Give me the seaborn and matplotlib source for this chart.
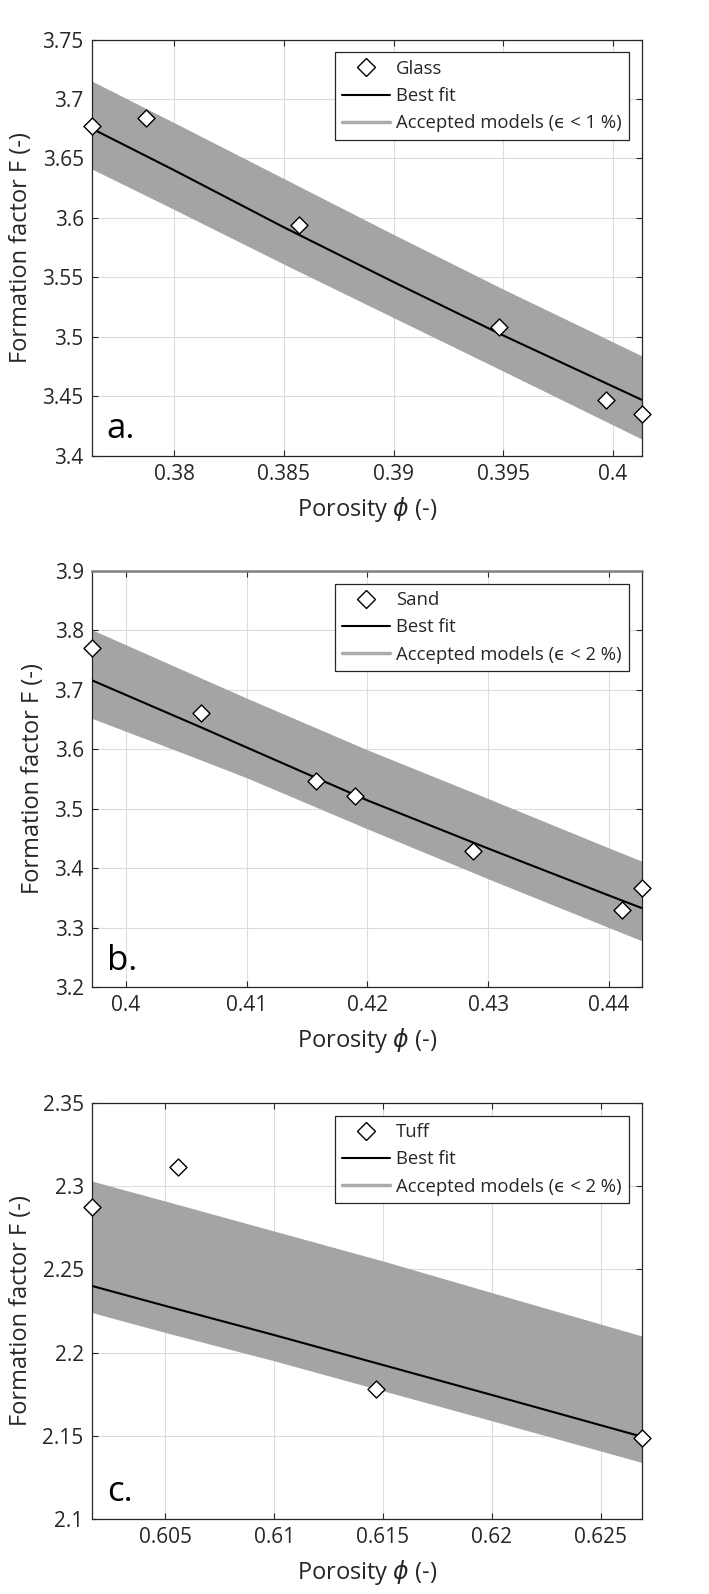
import numpy as np
import pandas as pd
import matplotlib
matplotlib.use("Agg")
import matplotlib.pyplot as plt
from matplotlib.lines import Line2D
from matplotlib.ticker import FuncFormatter
import seaborn as sns

# Panel a: glass beads
glass_phi = [0.37625, 0.3787, 0.3857, 0.3948, 0.3997, 0.4013]
glass_F = [3.677, 3.684, 3.594, 3.508, 3.447, 3.435]
glass_fit_phi = [0.37625, 0.38, 0.385, 0.39, 0.395, 0.4013]
glass_fit_F = [3.675, 3.640, 3.592, 3.546, 3.501, 3.447]
glass_upper = [3.715, 3.680, 3.633, 3.586, 3.540, 3.484]
glass_lower = [3.641, 3.607, 3.561, 3.516, 3.471, 3.414]

# Panel b: sand
sand_phi = [0.39718, 0.4062, 0.41572, 0.41900, 0.42873, 0.4411, 0.44270]
sand_F = [3.771, 3.661, 3.546, 3.522, 3.429, 3.330, 3.366]
sand_fit_phi = [0.39718, 0.4062, 0.41, 0.42, 0.43, 0.44, 0.44270]
sand_fit_F = [3.716, 3.637, 3.603, 3.514, 3.433, 3.354, 3.333]
sand_upper = [3.801, 3.720, 3.686, 3.599, 3.517, 3.434, 3.412]
sand_lower = [3.652, 3.582, 3.552, 3.466, 3.382, 3.300, 3.278]

# Panel c: tuff
tuff_phi = [0.60163, 0.6056, 0.6147, 0.62688]
tuff_F = [2.2875, 2.3115, 2.1778, 2.1487]
tuff_fit_phi = [0.60163, 0.605, 0.61, 0.615, 0.62, 0.62688]
tuff_fit_F = [2.240, 2.228, 2.2105, 2.1925, 2.1745, 2.1495]
tuff_upper = [2.303, 2.291, 2.273, 2.255, 2.236, 2.210]
tuff_lower = [2.224, 2.212, 2.195, 2.177, 2.159, 2.134]

panels = [
    dict(name="Glass", eps="1", tag="a.",
         phi=glass_phi, F=glass_F, fit_phi=glass_fit_phi, fit_F=glass_fit_F,
         up=glass_upper, lo=glass_lower,
         ylim=(3.4, 3.75), yticks=np.arange(3.4, 3.7501, 0.05),
         xticks=[0.38, 0.385, 0.39, 0.395, 0.4]),
    dict(name="Sand", eps="2", tag="b.",
         phi=sand_phi, F=sand_F, fit_phi=sand_fit_phi, fit_F=sand_fit_F,
         up=sand_upper, lo=sand_lower,
         ylim=(3.2, 3.9), yticks=np.arange(3.2, 3.9001, 0.1),
         xticks=[0.4, 0.41, 0.42, 0.43, 0.44]),
    dict(name="Tuff", eps="2", tag="c.",
         phi=tuff_phi, F=tuff_F, fit_phi=tuff_fit_phi, fit_F=tuff_fit_F,
         up=tuff_upper, lo=tuff_lower,
         ylim=(2.1, 2.35), yticks=np.arange(2.1, 2.3501, 0.05),
         xticks=[0.605, 0.61, 0.615, 0.62, 0.625]),
]

sns.set_theme(style="ticks")
plt.rcParams["font.family"] = ["Open Sans", "DejaVu Sans"]
plt.rcParams["mathtext.fontset"] = "dejavusans"

band_color = "#a4a4a4"
text_color = "#262626"

fig = plt.figure(figsize=(7.09, 15.94), dpi=100)
bottoms = [0.7142, 0.3808, 0.0471]

for i, (p, b) in enumerate(zip(panels, bottoms)):
    ax = fig.add_axes([0.1298, b, 0.775, 0.261])

    # accepted models band
    ax.fill_between(p["fit_phi"], p["lo"], p["up"], color=band_color, lw=0, zorder=1)

    # best fit line
    fit_df = pd.DataFrame({"phi": p["fit_phi"], "F": p["fit_F"]})
    sns.lineplot(data=fit_df, x="phi", y="F", ax=ax, color="black", lw=1.5,
                 sort=False, zorder=3)

    # measurements
    pts = pd.DataFrame({"phi": p["phi"], "F": p["F"]})
    sns.scatterplot(data=pts, x="phi", y="F", ax=ax, marker="D", s=75,
                    facecolor="white", edgecolor="black", linewidth=1.0,
                    zorder=4, clip_on=False)

    ax.set_xlim(p["fit_phi"][0], p["fit_phi"][-1])
    ax.set_ylim(*p["ylim"])
    ax.set_xticks(p["xticks"])
    ax.set_yticks(p["yticks"])
    fmt = FuncFormatter(lambda v, pos: "%g" % round(v, 4))
    ax.xaxis.set_major_formatter(fmt)
    ax.yaxis.set_major_formatter(fmt)

    ax.grid(True, color="#dcdcdc", lw=0.8)
    ax.set_axisbelow(True)
    ax.tick_params(direction="in", length=4.5, width=0.8, top=True, right=True,
                   labelsize=15, pad=6, colors=text_color)
    for s in ax.spines.values():
        s.set_color(text_color)
        s.set_linewidth(0.9)
    if i == 1:
        # the sand panel's top edge looks grey and heavier in the source
        ax.spines["top"].set_color("#808080")
        ax.spines["top"].set_linewidth(1.8)

    ax.set_xlabel(r"Porosity $\phi$ (-)", fontsize=17, color=text_color, labelpad=7)
    ax.set_ylabel("Formation factor F (-)", fontsize=17, color=text_color, labelpad=7)

    ax.text(0.027, 0.042, p["tag"], transform=ax.transAxes, fontsize=25,
            color="black", ha="left", va="baseline")

    handles = [
        Line2D([], [], ls="none", marker="D", ms=9, mfc="white", mec="black", mew=1.0),
        Line2D([], [], color="black", lw=1.5),
        Line2D([], [], color="#ababab", lw=2.5),
    ]
    labels = [p["name"], "Best fit",
              "Accepted models (\u03f5 < " + p["eps"] + " %)"]
    leg = ax.legend(handles, labels, loc="upper right", bbox_to_anchor=(0.977, 0.969),
                    borderaxespad=0, fontsize=13.3, frameon=True, fancybox=False,
                    handlelength=2.6, handletextpad=0.3, labelspacing=0.5,
                    borderpad=0.4)
    leg.get_frame().set_edgecolor(text_color)
    leg.get_frame().set_linewidth(0.9)
    leg.get_frame().set_alpha(1)

fig.savefig("out.png", dpi=100)
